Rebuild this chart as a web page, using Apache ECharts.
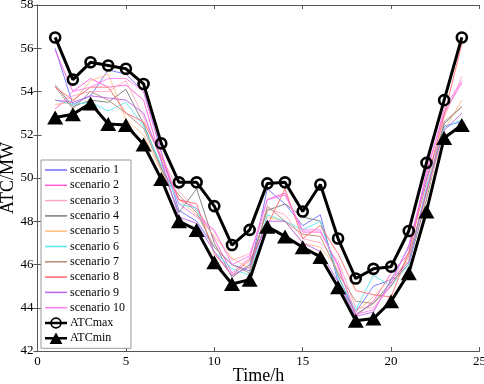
<!DOCTYPE html>
<html>
<head>
<meta charset="utf-8">
<script src="https://cdn.jsdelivr.net/npm/echarts@6/dist/echarts.min.js"></script>
<style>
  html, body { margin: 0; padding: 0; background: #fff; }
  #chart { width: 484px; height: 384px; }
</style>
</head>
<body>
<div id="chart"></div>
<script>
// hours 1..24
var hours = [1,2,3,4,5,6,7,8,9,10,11,12,13,14,15,16,17,18,19,20,21,22,23,24];

var atcMax = [56.5,54.55,55.35,55.2,55.05,54.35,51.6,49.8,49.8,48.7,46.9,47.6,49.75,49.8,48.45,49.7,47.2,45.35,45.8,45.9,47.55,50.7,53.6,56.5];
var atcMin = [52.8,52.95,53.45,52.5,52.45,51.55,49.95,48.0,47.6,46.1,45.1,45.3,47.75,47.3,46.8,46.35,44.95,43.4,43.5,44.3,45.6,48.45,51.85,52.45];

var scenario1  = [56.0,53.4,53.8,55.0,54.8,54.0,51.2,48.5,48.0,46.8,46.0,45.7,49.5,48.8,47.8,48.3,45.2,43.8,45.0,45.3,46.8,50.0,52.4,52.6];
var scenario2  = [55.9,54.0,54.6,54.2,54.3,53.6,50.8,49.0,48.6,47.2,45.6,46.3,49.0,49.3,47.5,47.5,46.0,43.6,44.3,45.6,46.5,50.3,53.0,54.4];
var scenario3  = [53.2,53.8,54.0,54.0,54.5,52.8,51.0,49.4,48.5,47.5,46.2,46.5,48.6,48.3,47.2,47.0,46.2,44.0,44.0,45.0,46.2,49.5,52.8,54.7];
var scenario4  = [54.3,53.3,53.6,53.5,54.1,52.5,50.5,48.4,49.5,47.0,45.4,46.0,48.5,48.8,48.2,48.0,45.5,43.7,44.2,45.2,46.0,49.0,52.5,53.3];
var scenario5  = [53.4,53.5,54.5,54.8,52.7,52.0,50.3,49.0,48.3,47.3,46.3,45.8,48.2,48.0,47.0,46.8,45.8,43.8,44.5,45.4,46.2,49.2,52.2,53.6];
var scenario6  = [53.6,53.4,53.5,53.1,53.5,52.4,50.6,48.8,48.6,46.6,45.8,45.5,48.3,48.0,47.6,48.0,45.4,43.9,45.5,45.0,46.0,49.6,52.3,52.7];
var scenario7  = [54.2,53.2,54.0,53.6,53.0,52.3,50.4,49.2,48.4,46.8,46.0,45.6,48.7,48.0,47.4,47.3,45.6,44.3,44.2,45.0,46.4,49.3,52.6,53.3];
var scenario8  = [54.2,53.6,54.2,54.2,53.0,52.6,51.0,49.0,48.8,46.5,45.5,46.2,47.8,49.5,47.2,47.8,46.5,44.8,44.6,44.5,46.6,49.8,52.9,56.2];
var scenario9  = [53.6,53.5,53.8,53.7,53.6,53.0,50.8,48.2,47.9,46.6,45.5,45.9,48.0,48.0,47.0,46.6,45.2,43.6,43.8,45.3,46.1,49.4,52.2,53.0];
var scenario10 = [53.2,54.0,54.2,54.6,54.6,54.0,51.2,48.8,48.2,47.6,46.0,46.4,49.0,49.2,47.6,47.6,45.9,43.7,43.9,45.1,46.9,50.1,53.2,54.5];

var scenarios = [scenario1, scenario2, scenario3, scenario4, scenario5,
                 scenario6, scenario7, scenario8, scenario9, scenario10];
var scenarioColors = ['#6f6fff','#ff5ad8','#ffa8c4','#7a7a7a','#ffbe86',
                      '#5ae8ee','#b88a78','#ff6a6a','#c062ea','#ff7cf4'];

var xTicks = { min: 0, max: 25, interval: 5 };
var yTicks = { min: 42, max: 58, interval: 2 };

function pairs(vals) {
  return hours.map(function (h, i) { return [h, vals[i]]; });
}

var font = '"Liberation Serif", "Times New Roman", serif';
var axisColor = '#555';

var series = scenarios.map(function (vals, i) {
  return {
    name: 'scenario ' + (i + 1),
    type: 'line',
    data: pairs(vals),
    symbol: 'none',
    color: scenarioColors[i],
    lineStyle: { width: 0.9, color: scenarioColors[i] },
    itemStyle: { color: scenarioColors[i] },
    z: 2
  };
});

// hollow circles: the line stays visible inside, as in matlab 'o'
series.push({
  name: 'ATCmax',
  type: 'line',
  data: pairs(atcMax),
  symbol: 'circle',
  symbolSize: 10,
  lineStyle: { width: 3, color: '#000' },
  itemStyle: { color: 'rgba(255,255,255,0)', borderColor: '#000', borderWidth: 2.6 },
  z: 5
});
series.push({
  name: 'ATCmin',
  type: 'line',
  data: pairs(atcMin),
  symbol: 'triangle',
  symbolSize: [16, 14],
  lineStyle: { width: 3, color: '#000' },
  itemStyle: { color: '#000' },
  z: 5
});

// legend icons drawn as paths (22 x 12 box)
var lineIcon = 'path://M0,0H22V1.5H0Z';
var maxIcon = 'path://M0,4.8H22V7.2H0Z' +
  'M11,0.2A5.8,5.8 0 1 1 11,11.8A5.8,5.8 0 1 1 11,0.2Z' +
  'M11,1.9A4.1,4.1 0 1 0 11,10.1A4.1,4.1 0 1 0 11,1.9Z';
var minIcon = 'path://M0,4.8H22V7.2H0Z M11,0.3L17.5,11.7L4.5,11.7Z';

var legendData = series.map(function (s, i) {
  if (i < scenarios.length) {
    return { name: s.name, icon: lineIcon,
             itemStyle: { color: scenarioColors[i], borderWidth: 0 } };
  }
  return { name: s.name, icon: s.name === 'ATCmax' ? maxIcon : minIcon,
           itemStyle: { color: '#000', borderWidth: 0 } };
});

var chart = echarts.init(document.getElementById('chart'), null, { renderer: 'canvas' });

chart.setOption({
  animation: false,
  backgroundColor: '#fff',
  textStyle: { fontFamily: font, color: '#000' },
  grid: { left: 37.5, right: 4.5, top: 5, bottom: 33, outerBoundsMode: 'none', containLabel: false },
  legend: {
    orient: 'vertical',
    left: 41,
    top: 160,
    padding: [4, 6, 4, 4],
    itemWidth: 22,
    itemHeight: 12,
    itemGap: 3.3,
    backgroundColor: '#fff',
    borderColor: '#999',
    borderWidth: 1,
    borderRadius: 0,
    textStyle: { fontFamily: font, fontSize: 12, color: '#000', padding: [0, 0, 0, -2] },
    data: legendData
  },
  xAxis: [{
    type: 'value',
    min: xTicks.min, max: xTicks.max, interval: xTicks.interval,
    name: 'Time/h',
    nameLocation: 'middle',
    nameGap: 16,
    nameMoveOverlap: false,
    nameTextStyle: { fontFamily: font, fontSize: 18, color: '#000' },
    axisLine: { lineStyle: { color: axisColor } },
    axisTick: { inside: true, length: 4, lineStyle: { color: axisColor } },
    axisLabel: { fontFamily: font, fontSize: 13, color: '#000', margin: 4 },
    splitLine: { show: false }
  }, {
    type: 'value', position: 'top',
    min: xTicks.min, max: xTicks.max, interval: xTicks.interval,
    axisLine: { lineStyle: { color: axisColor } },
    axisTick: { inside: true, length: 4, lineStyle: { color: axisColor } },
    axisLabel: { show: false },
    splitLine: { show: false }
  }],
  yAxis: [{
    type: 'value',
    min: yTicks.min, max: yTicks.max, interval: yTicks.interval,
    name: 'ATC/MW',
    nameLocation: 'middle',
    nameGap: 20,
    nameMoveOverlap: false,
    nameTextStyle: { fontFamily: font, fontSize: 18, color: '#000' },
    axisLine: { show: true, lineStyle: { color: axisColor } },
    axisTick: { show: true, inside: true, length: 4, lineStyle: { color: axisColor } },
    axisLabel: { fontFamily: font, fontSize: 13, color: '#000', margin: 4 },
    splitLine: { show: false }
  }, {
    type: 'value', position: 'right',
    min: yTicks.min, max: yTicks.max, interval: yTicks.interval,
    axisLine: { show: true, lineStyle: { color: axisColor } },
    axisTick: { show: true, inside: true, length: 4, lineStyle: { color: axisColor } },
    axisLabel: { show: false },
    splitLine: { show: false }
  }],
  series: series
});
</script>
</body>
</html>
